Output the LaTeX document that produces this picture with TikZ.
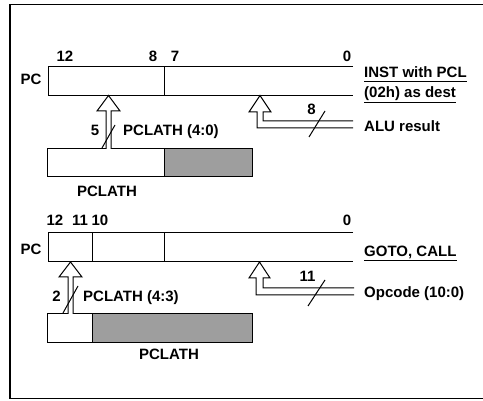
\documentclass[tikz,border=0pt]{standalone}
\usepackage{fontspec}
\setmainfont{Liberation Sans}
\begin{document}
\begin{tikzpicture}[x=1pt,y=-1pt,
  reg/.style={line width=1pt},
  lbl/.style={inner sep=0pt,font=\fontsize{15}{18}\selectfont\bfseries},
  lblw/.style={lbl,anchor=base west},
  lblc/.style={lbl,anchor=base},
  hollow/.style={line width=1pt,fill=white,line join=miter},
  shade/.style={fill=black!38},
  uline/.style={line width=1pt}]
\useasboundingbox (0,0) rectangle (483,401);
% outer frame
\draw[line width=1.6pt] (490,4.5) -- (10,4.5) -- (10,398.5) -- (490,398.5);

% ===== upper part =====
\draw[reg] (353,66.5) -- (48,66.5) -- (48,95.5) -- (353,95.5);
\draw[reg] (164,66.5) -- (164,95.5);
\node[lblc] (b12a) at (65,61.5) {12};
\node[lblc] (b8a) at (153,61.5) {8};
\node[lblc] (b7a) at (175,61.5) {7};
\node[lblc] (b0a) at (347,61.5) {0};
\node[lblc] (pca) at (31,84.5) {PC};

\fill[shade] (164,149) rectangle (252,177);
\draw[reg] (47,149) rectangle (252,177);
\draw[reg] (164,149) -- (164,177);
\node[lblc] (platha) at (107,197) {PCLATH};

\draw[hollow] (106,149) -- (106,111) -- (97,111) -- (108.5,95.5) -- (120,111) -- (111,111) -- (111,149);
\draw[reg] (102,148) -- (115,125);
\node[lblc] (n5) at (95,136) {5};
\node[lblw] (pl40) at (123,136) {PCLATH (4:0)};

\draw[hollow] (353,121) -- (263,121) -- (263,112) -- (271,112) -- (260,95.5) -- (249,112) -- (257,112) -- (257,128) -- (353,128);
\draw[reg] (309,137) -- (325,111);
\node[lblc] (n8) at (311.5,115) {8};

\node[lblw] (inst) at (364,78) {INST with PCL};
\draw[uline] ([yshift=-3.5pt]inst.base west) -- ([yshift=-3.5pt]inst.base east);
\node[lblw] (dest) at (364,98) {(02h) as dest};
\draw[uline] ([yshift=-4.5pt]dest.base west) -- ([yshift=-4.5pt]dest.base east);
\node[lblw] (alu) at (364,132) {ALU result};

% ===== lower part =====
\draw[reg] (353,233) -- (48,233) -- (48,262) -- (353,262);
\draw[reg] (92,233) -- (92,262);
\draw[reg] (164,233) -- (164,262);
\node[lblc] (b12b) at (55,226) {12};
\node[lblc] (b11b) at (80,226) {11};
\node[lblc] (b10b) at (100,226) {10};
\node[lblc] (b0b) at (347,226) {0};
\node[lblc] (pcb) at (31,255) {PC};

\fill[shade] (92,314) rectangle (252,343);
\draw[reg] (47,314) rectangle (252,343);
\draw[reg] (92,314) -- (92,343);
\node[lblc] (plathb) at (169,360) {PCLATH};

\draw[hollow] (68,314) -- (68,277) -- (59,277) -- (70.5,262) -- (82,277) -- (73,277) -- (73,314);
\draw[reg] (63,313) -- (78,286);
\node[lblc] (n2) at (56.5,302) {2};
\node[lblw] (pl43) at (83,302) {PCLATH (4:3)};

\draw[hollow] (354,288) -- (263,288) -- (263,278) -- (270,278) -- (259.5,262) -- (249,278) -- (256,278) -- (256,295) -- (354,295);
\draw[reg] (308,306) -- (325,280);
\node[lblc] (n11) at (307.5,282) {11};

\node[lblw] (goto) at (364,257) {GOTO, CALL};
\draw[uline] ([yshift=-4pt]goto.base west) -- ([yshift=-4pt]goto.base east);
\node[lblw] (opc) at (364,298) {Opcode (10:0)};
\end{tikzpicture}
\end{document}
